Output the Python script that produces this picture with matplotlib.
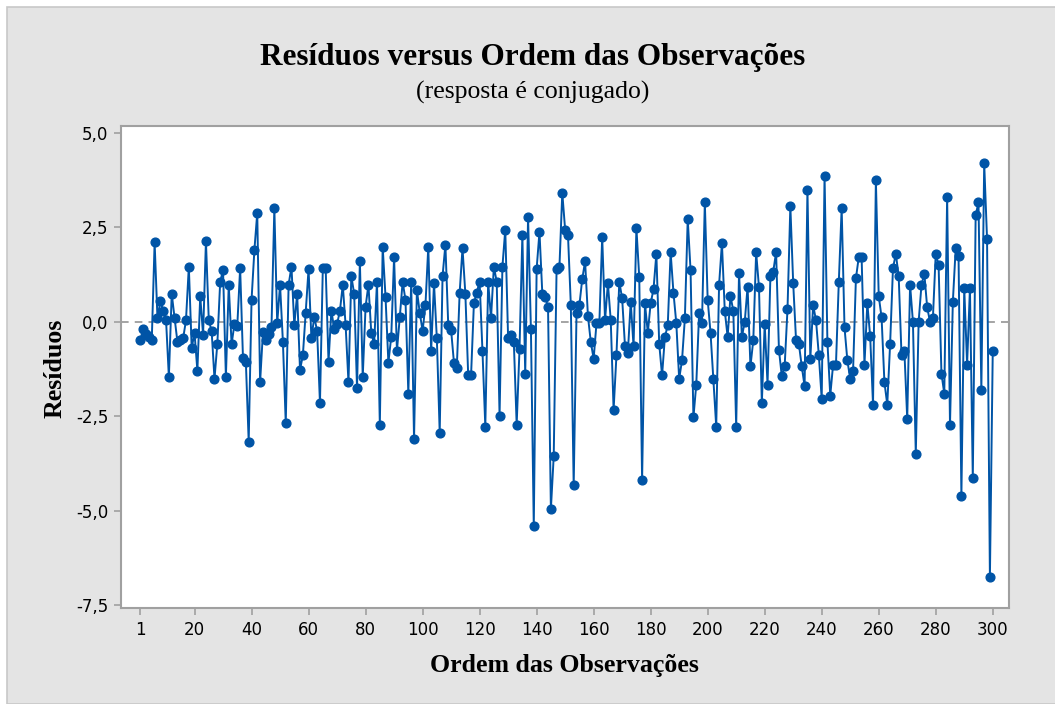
import matplotlib
matplotlib.use("Agg")
import matplotlib.pyplot as plt
from matplotlib.patches import Rectangle
from matplotlib.ticker import FuncFormatter

# resíduos, observações 1..300
residuos = [
    -0.47, -0.18, -0.31, -0.40, -0.49, 2.10, 0.09, 0.55, 0.29, 0.06,
    -1.46, 0.74, 0.10, -0.53, -0.49, -0.44, 0.04, 1.46, -0.69, -0.30,
    -1.29, 0.68, -0.35, 2.14, 0.04, -0.24, -1.51, -0.58, 1.06, 1.37,
    -1.46, 0.98, -0.59, -0.06, -0.10, 1.42, -0.97, -1.05, -3.17, 0.58,
    1.90, 2.88, -1.60, -0.27, -0.49, -0.31, -0.13, 3.01, -0.04, 0.98,
    -0.53, -2.68, 0.98, 1.46, -0.09, 0.74, -1.27, -0.89, 0.24, 1.40,
    -0.44, 0.13, -0.24, -2.15, 1.42, 1.42, -1.06, 0.29, -0.18, -0.06,
    0.29, 0.98, -0.09, -1.60, 1.21, 0.74, -1.75, 1.60, -1.46, 0.40,
    0.98, -0.29, -0.59, 1.06, -2.72, 1.99, 0.65, -1.08, -0.40, 1.71,
    -0.77, 0.12, 1.06, 0.58, -1.90, 1.06, -3.10, 0.84, 0.24, -0.24,
    0.44, 1.99, -0.77, 1.02, -0.44, -2.93, 1.21, 2.04, -0.09, -0.22,
    -1.08, -1.21, 0.77, 1.95, 0.74, -1.42, -1.42, 0.49, 0.77, 1.06,
    -0.77, -2.77, 1.06, 0.09, 1.46, 1.06, -2.48, 1.46, 2.44, -0.44,
    -0.35, -0.53, -2.72, -0.71, 2.29, -1.37, 2.77, -0.20, -5.41, 1.40,
    2.38, 0.74, 0.65, 0.40, -4.96, -3.55, 1.40, 1.45, 3.41, 2.44,
    2.30, 0.44, -4.33, 0.24, 0.44, 1.13, 1.60, 0.15, -0.53, -0.98,
    -0.04, -0.04, 2.24, 0.04, 1.02, 0.04, -2.33, -0.89, 1.06, 0.62,
    -0.65, -0.82, 0.53, -0.65, 2.48, 1.18, -4.19, 0.49, -0.29, 0.49,
    0.86, 1.80, -0.58, -1.42, -0.40, -0.09, 1.84, 0.77, -0.04, -1.51,
    -1.02, 0.09, 2.72, 1.36, -2.53, -1.66, 0.24, -0.04, 3.16, 0.58,
    -0.29, -1.51, -2.77, 0.98, 2.08, 0.29, -0.40, 0.68, 0.29, -2.77,
    1.30, -0.40, 0.00, 0.93, -1.18, -0.49, 1.84, 0.91, -2.15, -0.06,
    -1.66, 1.20, 1.33, 1.84, -0.74, -1.44, -1.18, 0.33, 3.06, 1.02,
    -0.49, -0.59, -1.18, -1.70, 3.50, -0.98, 0.44, 0.04, -0.89, -2.04,
    3.86, -0.53, -1.95, -1.13, -1.13, 1.06, 3.01, -0.15, -1.02, -1.51,
    -1.30, 1.15, 1.71, 1.71, -1.13, 0.49, -0.38, -2.19, 3.75, 0.68,
    0.12, -1.60, -2.19, -0.58, 1.42, 1.80, 1.21, -0.89, -0.77, -2.57,
    0.98, 0.00, -3.50, 0.00, 0.98, 1.27, 0.38, 0.00, 0.09, 1.80,
    1.51, -1.37, -1.90, 3.31, -2.72, 0.53, 1.95, 1.75, -4.61, 0.89,
    -1.13, 0.89, -4.14, 2.82, 3.16, -1.80, 4.19, 2.19, -6.76, -0.77,
]
ordem = list(range(1, len(residuos) + 1))

xticks = [1] + list(range(20, 301, 20))
yticks = [-7.5, -5.0, -2.5, 0.0, 2.5, 5.0]

azul = "#0054A6"
cinza = "#a0a0a0"
serif = ["Liberation Serif", "DejaVu Serif"]

fig = plt.figure(figsize=(10.55, 7.04), dpi=100)
fig.patch.set_facecolor("white")

# fundo cinza do Minitab (atrás dos eixos)
fig.patches.append(Rectangle((7 / 1055, 0), 1, 1 - 7 / 704, transform=fig.transFigure,
                             facecolor="#e4e4e4", edgecolor="#c8c8c8", linewidth=1.2, zorder=-10))

ax = fig.add_axes([0.1144, 0.1359, 0.9564 - 0.1144, 0.821 - 0.1359])
ax.set_facecolor("white")

ax.axhline(0, color="#8c8c8c", linestyle=(0, (5, 4)), linewidth=1.1, zorder=1)
ax.plot(ordem, residuos, color=azul, linewidth=1.4, marker="o", markersize=6.3,
        markerfacecolor=azul, markeredgecolor=azul, zorder=2)

ax.set_xlim(-5.9, 305.7)
ax.set_ylim(-7.58, 5.18)
ax.set_xticks(xticks)
ax.set_yticks(yticks)
ax.yaxis.set_major_formatter(FuncFormatter(lambda v, p: f"{v:.1f}".replace(".", ",")))

for s in ax.spines.values():
    s.set_color(cinza)
    s.set_linewidth(1.5)
ax.tick_params(direction="out", length=5, width=1.2, color=cinza,
               labelsize=12, labelcolor="black", pad=4)

# textos
fig.text(0.505, 0.919, "Resíduos versus Ordem das Observações", ha="center", va="center",
         fontsize=22.5, fontweight="bold", family=serif)
fig.text(0.505, 0.868, "(resposta é conjugado)", ha="center", va="center",
         fontsize=18.5, family=serif)
fig.text(0.535, 0.055, "Ordem das Observações", ha="center", va="center",
         fontsize=18.6, fontweight="bold", family=serif)
fig.text(0.052, 0.477, "Resíduos", ha="center", va="center", rotation=90,
         fontsize=18.6, fontweight="bold", family=serif)

plt.savefig("out.png", dpi=100)
plt.close()
